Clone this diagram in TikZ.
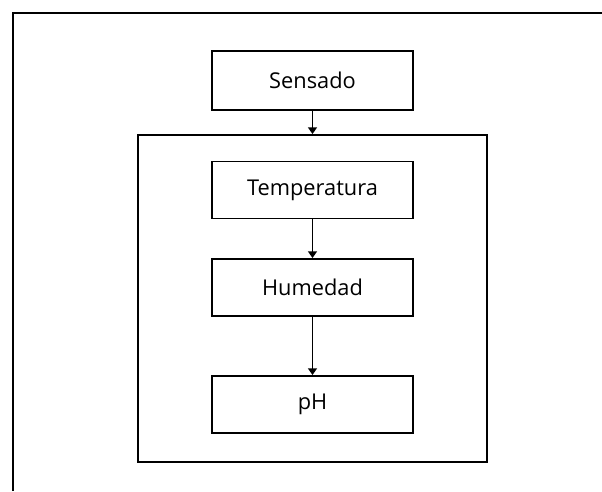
\documentclass[tikz,border=0pt]{standalone}
\usepackage{fontspec}
\setmainfont{Open Sans}
\usetikzlibrary{arrows.meta}
\begin{document}
\begin{tikzpicture}[x=0.02cm,y=-0.02cm,>={Triangle[width=5pt,length=3.8pt]},line width=1.1pt]
            \useasboundingbox (0,0) rectangle (602,491);
            \draw [line width=1.4pt] (13,491) -- (13,13) -- (602,13);
            \begin{scope}[every node/.style={rectangle,draw,minimum width=4.03cm,minimum height=1.14cm,font=\fontsize{12.4}{15}\selectfont}]
                \node [minimum height=1.18cm] (SEN) at (312.5,80.5) {Sensado};
                \node [minimum width=6.98cm,minimum height=6.54cm] (BOX) at (312.5,298.5) {};

                \node (TEM) at (312.5,190) {Temperatura};
                \node (HUM) at (312.5,287.5) {Humedad};

                \node (PH) at (312.5,404.5) {pH};
            \end{scope}
                \path [->] (SEN) edge node {} (BOX);
                \path [->] (TEM) edge node {} (HUM);
                \path [->] (HUM) edge node {} (PH);
            \end{tikzpicture}
\end{document}
